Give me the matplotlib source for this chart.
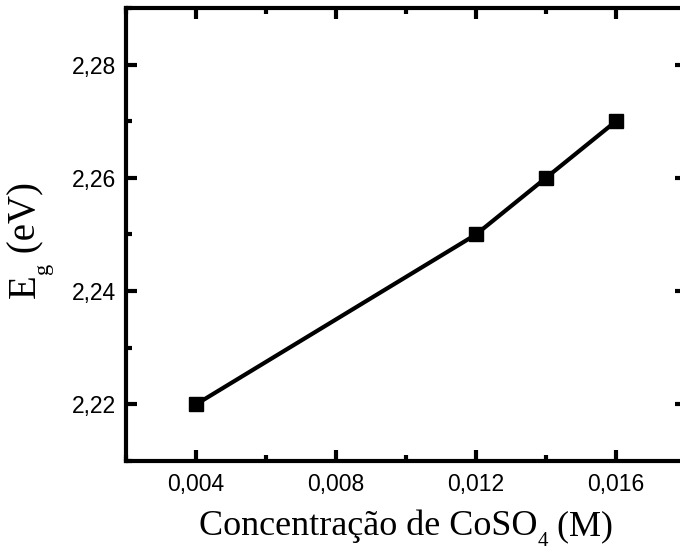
import numpy as np
import matplotlib
matplotlib.use("Agg")
import matplotlib.pyplot as plt
from matplotlib.ticker import MultipleLocator, FuncFormatter

plt.rcParams["font.family"] = "Liberation Sans"

# band gap vs CoSO4 concentration
conc = [0.004, 0.012, 0.014, 0.016]
eg = [2.22, 2.25, 2.26, 2.27]

xticks = [0.004, 0.008, 0.012, 0.016]
yticks = [2.22, 2.24, 2.26, 2.28]

W, H = 680, 554
SERIF = "Liberation Serif"


def comma(fmt):
    return FuncFormatter(lambda v, p: (fmt % v).replace(".", ","))


def frac(x, y):
    # pixel position (from top-left) -> figure fraction
    return x / W, (H - y) / H


fig = plt.figure(figsize=(W / 100, H / 100), dpi=100)
ax = fig.add_axes([0.1853, 0.1679, 0.8235, 0.8177])
ax.plot(conc, eg, "-", color="black", lw=3, marker="s", ms=9.5, mfc="black", mec="black")

ax.set_xlim(0.002, 0.018)
ax.set_ylim(2.21, 2.29)
ax.set_xticks(xticks)
ax.set_yticks(yticks)
ax.xaxis.set_minor_locator(MultipleLocator(0.002))
ax.yaxis.set_minor_locator(MultipleLocator(0.01))
ax.xaxis.set_major_formatter(comma("%.3f"))
ax.yaxis.set_major_formatter(comma("%.2f"))

for s in ax.spines.values():
    s.set_linewidth(3)
ax.tick_params(which="both", direction="in", top=True, right=True, width=3,
               labelsize=16.5)
ax.tick_params(which="major", length=8)
ax.tick_params(which="minor", length=4)
ax.tick_params(axis="x", which="major", pad=9)
ax.tick_params(axis="y", which="major", pad=7)

# axis titles built piecewise so the subscripts sit low
r = fig.canvas.get_renderer()

# x title: centred under the axes
xparts = [("Concentração de CoSO", 26, 0), ("4", 15, 11), (" (M)", 26, 0)]
txts = []
for s, fs, drop in xparts:
    t = fig.text(0, 0, s, family=SERIF, fontsize=fs, ha="left", va="baseline")
    txts.append((t, t.get_window_extent(r).width, drop))
total = sum(w for _, w, _ in txts)
x = 406 - total / 2
for t, w, drop in txts:
    t.set_position(frac(x, 535 + drop))
    x += w

# y title: rotated, reading upward from y=298 px
yparts = [("E", 28, 0), ("g", 16, 13), (" (eV)", 28, 0)]
y = 298
for s, fs, drop in yparts:
    t = fig.text(0, 0, s, family=SERIF, fontsize=fs, rotation=90,
                 rotation_mode="anchor", ha="left", va="baseline")
    h = t.get_window_extent(r).height
    t.set_position(frac(35 + drop, y))
    y -= h

fig.savefig("out.png", dpi=100)
